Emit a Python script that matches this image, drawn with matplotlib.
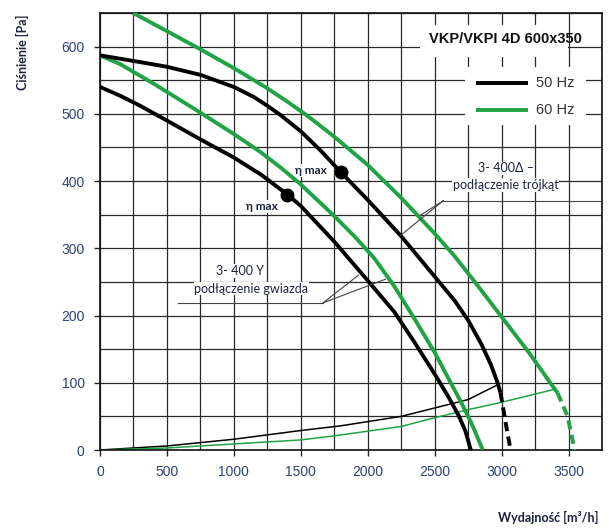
import matplotlib
matplotlib.use("Agg")
import matplotlib.pyplot as plt
from matplotlib.patches import Rectangle
from matplotlib.ticker import MultipleLocator

# ---- data ----
# 3-400 Y (star) 50 Hz
x_y50 = [0, 150, 300, 500, 750, 1000, 1200, 1400, 1500, 1750, 2000, 2200, 2350, 2500, 2600, 2680, 2730, 2770]
p_y50 = [540, 527, 512, 490, 462, 435, 410, 380, 363, 310, 252, 205, 160, 113, 80, 51, 28, 0]
# 3-400 Y (star) 60 Hz
x_y60 = [0, 150, 400, 700, 1000, 1200, 1350, 1500, 1750, 1900, 2050, 2200, 2350, 2500, 2620, 2700, 2770, 2860]
p_y60 = [587, 574, 545, 508, 470, 443, 420, 395, 348, 318, 285, 243, 195, 145, 100, 70, 42, 0]
# 3-400 Delta (triangle) 50 Hz, solid part and dashed tail
x_d50 = [0, 150, 300, 500, 750, 1000, 1150, 1250, 1350, 1500, 1650, 1800, 2000, 2250, 2500, 2650, 2750, 2850, 2920, 2970, 2992]
p_d50 = [587, 582, 577, 570, 558, 540, 525, 512, 498, 474, 445, 413, 372, 318, 258, 222, 193, 157, 127, 100, 85]
x_d50_tail = [2992, 3005, 3035, 3067]
p_d50_tail = [85, 70, 35, 0]
# 3-400 Delta (triangle) 60 Hz, solid part and dashed tail
x_d60 = [248, 500, 750, 1000, 1250, 1400, 1550, 1750, 2000, 2250, 2500, 2650, 2800, 3000, 3200, 3300, 3370, 3418]
p_d60 = [650, 623, 596, 568, 538, 518, 497, 466, 424, 375, 322, 288, 250, 198, 146, 118, 98, 85]
x_d60_tail = [3418, 3493, 3545]
p_d60_tail = [85, 50, 0]
# system curves
x_sys50 = [0, 500, 1000, 1500, 1800, 2250, 2750, 2970]
p_sys50 = [0, 6, 16, 29, 36, 50, 75, 97]
x_sys60 = [0, 500, 1000, 1500, 1750, 2250, 2500, 2750, 3000, 3390]
p_sys60 = [0, 3, 9, 15, 21, 35, 48, 60, 71, 90]
# efficiency maxima
eta_x = [1400, 1800]
eta_p = [380, 413]

x_ticks = [0, 500, 1000, 1500, 2000, 2500, 3000, 3500]
y_ticks = [0, 100, 200, 300, 400, 500, 600]
legend_labels = ["50 Hz", "60 Hz"]

BLACK = "#000000"
GREEN = "#1fa345"
TICKC = "#2d4373"
TXTC = "#1c2340"

fig = plt.figure(figsize=(6.09, 5.30), dpi=100)
ax = fig.add_axes([100/609, 1-450/530, 502/609, 437/530])
ax.set_xlim(0, 3750)
ax.set_ylim(0, 650)

ax.xaxis.set_minor_locator(MultipleLocator(250))
ax.yaxis.set_minor_locator(MultipleLocator(50))
ax.set_xticks(x_ticks)
ax.set_yticks(y_ticks)
ax.set_xticklabels([str(v) for v in x_ticks])
ax.set_yticklabels([str(v) for v in y_ticks])
ax.grid(True, which="both", color="#2a2a2a", linewidth=0.9, zorder=0)
ax.set_axisbelow(True)
ax.tick_params(which="major", direction="out", length=4, width=1, color="#222",
               labelsize=10, labelcolor=TICKC, pad=7)
ax.tick_params(which="minor", length=0)
for lab in ax.get_xticklabels() + ax.get_yticklabels():
    lab.set_fontfamily("Liberation Sans")
for s in ax.spines.values():
    s.set_linewidth(1.2)
    s.set_color("#111")

# white boxes for title / legend
ax.add_patch(Rectangle((2393, 584), 1100, 48, facecolor="white", edgecolor="none", zorder=1.5))
ax.add_patch(Rectangle((2730, 484), 897, 85, facecolor="white", edgecolor="none", zorder=1.5))

# curves
lw = 2.8
kw = dict(lw=lw, zorder=3, solid_capstyle="butt", solid_joinstyle="round")
ax.plot(x_y50, p_y50, color=BLACK, **kw)
ax.plot(x_y60, p_y60, color=GREEN, **kw)
ax.plot(x_d50, p_d50, color=BLACK, **kw)
ax.plot(x_d50_tail, p_d50_tail, color=BLACK, lw=lw, zorder=3, linestyle=(0, (2.4, 1.4)))
ax.plot(x_d60, p_d60, color=GREEN, **kw)
ax.plot(x_d60_tail, p_d60_tail, color=GREEN, lw=lw, zorder=3, linestyle=(0, (2.4, 1.4)))
ax.plot(x_sys50, p_sys50, color=BLACK, lw=1.1, zorder=2.5)
ax.plot(x_sys60, p_sys60, color=GREEN, lw=1.1, zorder=2.5)
ax.plot(eta_x, eta_p, "o", color=BLACK, markersize=9, zorder=4)

# eta max labels
ax.text(1578, 416, "η max", fontsize=8.5, fontweight="bold", color=TXTC, family="Lato",
        ha="center", va="center", zorder=5,
        bbox=dict(facecolor="white", edgecolor="none", pad=0.5))
ax.text(1212, 362, "η max", fontsize=8.5, fontweight="bold", color=TXTC, family="Lato",
        ha="center", va="center", zorder=5,
        bbox=dict(facecolor="white", edgecolor="none", pad=0.5))

# callouts: triangle
cl = dict(color="#444", lw=0.8, zorder=4)
ax.plot([2565, 3740], [371, 371], **cl)
ax.plot([2565, 2244], [371, 319], **cl)
ax.plot([2565, 2393], [371, 349], **cl)
ax.text(3030, 419, "3- 400Δ –", fontsize=9, color=TXTC, family="Lato", ha="center",
        va="center", zorder=5, bbox=dict(facecolor="white", edgecolor="none", pad=0.5))
ax.text(3030, 394, "podłączenie trójkąt", fontsize=9, color=TXTC, family="Lato", ha="center",
        va="center", zorder=5, bbox=dict(facecolor="white", edgecolor="none", pad=0.5))
# callouts: star
ax.plot([585, 1668], [219, 219], **cl)
ax.plot([1668, 1930], [219, 260], **cl)
ax.plot([1668, 2132], [219, 254], **cl)
ax.text(1047, 266, "3- 400 Y", fontsize=9, color=TXTC, family="Lato", ha="center",
        va="center", zorder=5, bbox=dict(facecolor="white", edgecolor="none", pad=0.5))
ax.text(1130, 240, "podłączenie gwiazda", fontsize=9, color=TXTC, family="Lato", ha="center",
        va="center", zorder=5, bbox=dict(facecolor="white", edgecolor="none", pad=0.5))

# title and legend
ax.text(3030, 612, "VKP/VKPI 4D 600x350", fontsize=10.5, fontweight="bold", color="#111",
        family="Liberation Sans", ha="center", va="center", zorder=5)
ax.plot([2812, 3194], [546, 546], color=BLACK, lw=lw, zorder=5, solid_capstyle="butt")
ax.plot([2812, 3194], [506, 506], color=GREEN, lw=lw, zorder=5, solid_capstyle="butt")
ax.text(3254, 546, legend_labels[0], fontsize=10.5, color="#333", family="Liberation Sans",
        ha="left", va="center", zorder=5)
ax.text(3254, 506, legend_labels[1], fontsize=10.5, color="#333", family="Liberation Sans",
        ha="left", va="center", zorder=5)

# axis labels
fig.text(22/609, 1-52/530, "Ciśnienie [Pa]", rotation=90, fontsize=9, fontweight="bold",
         color=TXTC, family="Lato", ha="center", va="center")
fig.text(598/609, 1-517/530, "Wydajność [m³/h]", fontsize=9, fontweight="bold",
         color=TXTC, family="Lato", ha="right", va="center")

fig.savefig("out.png", dpi=100)
